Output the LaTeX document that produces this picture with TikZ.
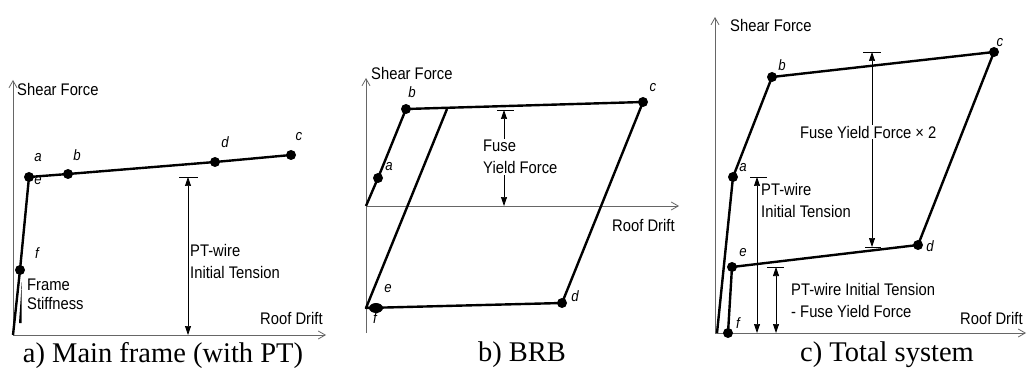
\documentclass[tikz,border=0pt]{standalone}
\usepackage{fontspec}
\setmainfont{Liberation Sans}[FakeStretch=0.88]
\newfontfamily\capfont{Liberation Serif}
\usetikzlibrary{arrows.meta}
\usetikzlibrary{shapes.geometric}

\begin{document}
\begin{tikzpicture}[
    x=1pt, y=-1pt,
    axis/.style={draw=black!60, line width=0.8pt, -{Straight Barb[length=7pt, width=8pt]}},
    curve/.style={line width=2.4pt, line join=round},
    dot/.style={circle, fill, inner sep=0pt, minimum size=10pt},
    dim/.style={line width=0.7pt, {Triangle[length=9pt, width=6pt]}-{Triangle[length=9pt, width=6pt]}},
    dimbar/.style={line width=0.8pt},
    lbl/.style={font=\fontsize{16.8}{22}\selectfont, anchor=west, align=left, inner sep=1pt},
    ptlabel/.style={font=\fontsize{15}{16}\selectfont\itshape, inner sep=0pt},
    caption/.style={font=\capfont\fontsize{28.5}{30}\selectfont}
]
\useasboundingbox (0,0) rectangle (1027,374);

% --- a) Main frame: axes ---
\coordinate (oA) at (13,335);
\coordinate (yA) at (13,80);
\coordinate (xA) at (326,335);
\draw[axis] (oA) -- (yA);
\draw[axis] (oA) -- (xA);
\node[lbl] (sfA) at (16,89) {Shear Force};
\node[lbl] (rdA) at (259,318) {Roof Drift};

% --- a) Main frame: curve ---
\coordinate (fA) at (20,270);
\coordinate (aA) at (29,177);
\coordinate (bA) at (68,174);
\coordinate (dA) at (215,162);
\coordinate (cA) at (291,155);
\draw[curve] (oA) -- (fA) -- (aA) -- (bA) -- (dA) -- (cA);
\foreach \p in {fA,aA,bA,dA,cA}
    \node[dot] at (\p) {};
\fill (21.8,282) -- (19,323) -- (21.5,323) -- cycle;

\node[ptlabel] (laA) at (38,158) {a};
\node[ptlabel] (leA) at (38,181) {e};
\node[ptlabel] (lbA) at (77,155) {b};
\node[ptlabel] (ldA) at (225,142) {d};
\node[ptlabel] (lcA) at (299,137) {c};
\node[ptlabel] (lfA) at (37,253) {f};
\node[lbl, font=\fontsize{16.8}{19}\selectfont] (fsA) at (26,294) {Frame\\Stiffness};

% --- a) Main frame: PT-wire tension ---
\coordinate (tA) at (188,177);
\draw[dimbar] ([xshift=-9]tA) -- ([xshift=10]tA);
\draw[dim] (tA) -- (tA |- oA);
\node[lbl] (ptA) at (189,261) {PT-wire\\Initial Tension};
\node[caption] (capA) at (163,355) {a) Main frame (with PT)};

% --- b) BRB: axes ---
\coordinate (oB) at (366,206);
\coordinate (yB0) at (366,333);
\coordinate (yB) at (366,78);
\coordinate (xB) at (679,206);
\draw[axis] (yB0) -- (yB);
\draw[axis] (oB) -- (xB);
\node[lbl] (sfB) at (370,73) {Shear Force};
\node[lbl] (rdB) at (611,225) {Roof Drift};

% --- b) BRB: loop ---
\coordinate (aB) at (378,178);
\coordinate (bB) at (406,109);
\coordinate (gB) at (447,109);
\coordinate (cB) at (643,102);
\coordinate (dB) at (562,303);
\coordinate (eB) at (366,308);
\coordinate (fB) at (376,308);
\draw[curve] (oB) -- (aB) -- (bB) -- (cB) -- (dB) -- (eB) -- (gB);
\foreach \p in {aB,bB,cB,dB}
    \node[dot] at (\p) {};
\node[dot, ellipse, minimum width=14pt, minimum height=10pt] at (fB) {};

\node[ptlabel] (laB) at (389,167) {a};
\node[ptlabel] (lbB) at (412,92) {b};
\node[ptlabel] (lcB) at (653,88) {c};
\node[ptlabel] (ldB) at (575,296) {d};
\node[ptlabel] (leB) at (388,289) {e};
\node[ptlabel] (lfB) at (375,318) {f};

% --- b) BRB: fuse yield force ---
\coordinate (tB) at (504,110);
\draw[dimbar] ([xshift=-7]tB) -- ([xshift=10]tB);
\draw[dim] (tB) -- (tB |- oB);
\node[lbl, fill=white] (fyB) at (482,157) {Fuse\\Yield Force};
\node[caption] (capB) at (522,355) {b) BRB};

% --- c) Total system: axes ---
\coordinate (oC) at (715,333);
\coordinate (yC) at (715,17);
\coordinate (xC) at (1026,333);
\draw[axis] (oC) -- (yC);
\draw[axis] (oC) -- (xC);
\node[lbl] (sfC) at (729,25) {Shear Force};
\node[lbl] (rdC) at (959,318) {Roof Drift};

% --- c) Total system: loop ---
\coordinate (sC) at (717,333);
\coordinate (aC) at (733,177);
\coordinate (bC) at (772,77);
\coordinate (cC) at (994,52);
\coordinate (dC) at (918,245);
\coordinate (eC) at (732,267);
\coordinate (fC) at (728,333);
\draw[curve] (sC) -- (aC) -- (bC) -- (cC) -- (dC) -- (eC) -- (fC);
\foreach \p in {aC,bC,cC,dC,eC,fC}
    \node[dot] at (\p) {};

\node[ptlabel] (laC) at (743,168) {a};
\node[ptlabel] (lbC) at (782,65) {b};
\node[ptlabel] (lcC) at (1000,43) {c};
\node[ptlabel] (ldC) at (930,246) {d};
\node[ptlabel] (leC) at (743,253) {e};
\node[ptlabel] (lfC) at (738,323) {f};

% --- c) Total system: dimensions ---
\coordinate (tC1) at (872,52);
\coordinate (tC2) at (872,247);
\draw[dimbar] ([xshift=-9]tC1) -- ([xshift=9]tC1);
\draw[dimbar] ([xshift=-7]tC2) -- ([xshift=9]tC2);
\draw[dim] (tC1) -- (tC2);
\node[lbl, fill=white] (fyC) at (799,132) {Fuse Yield Force × 2};

\coordinate (tC3) at (757,177);
\draw[dimbar] ([xshift=-7]tC3) -- ([xshift=10]tC3);
\draw[dim] (tC3) -- (tC3 |- oC);
\node[lbl] (ptC) at (760,200) {PT-wire\\Initial Tension};

\coordinate (tC4) at (776,267);
\draw[dimbar] ([xshift=-9]tC4) -- ([xshift=8]tC4);
\draw[dim] (tC4) -- (tC4 |- oC);
\node[lbl] (ptfC) at (790,300) {PT-wire Initial Tension\\- Fuse Yield Force};
\node[caption] (capC) at (887,355) {c) Total system};

\end{tikzpicture}
\end{document}
